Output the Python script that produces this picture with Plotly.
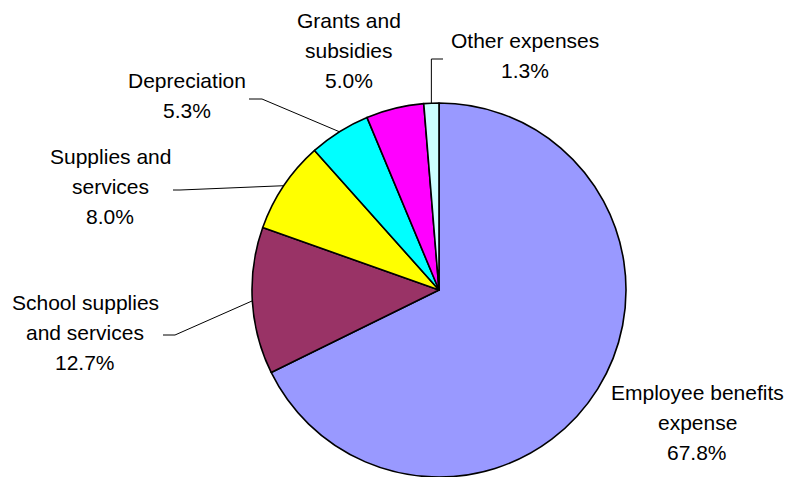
import math
import plotly.graph_objects as go

# Expense breakdown (percent of total)
categories = [
    "Employee benefits expense",
    "School supplies and services",
    "Supplies and services",
    "Depreciation",
    "Grants and subsidies",
    "Other expenses",
]
values = [67.8, 12.7, 8.0, 5.3, 5.0, 1.3]
colors = ["#9999FF", "#993366", "#FFFF00", "#00FFFF", "#FF00FF", "#CCFFFF"]

# Label text split into lines
label_lines = [
    ["Employee benefits", "expense"],
    ["School supplies", "and services"],
    ["Supplies and", "services"],
    ["Depreciation"],
    ["Grants and", "subsidies"],
    ["Other expenses"],
]

W, H = 787, 477
CX, CY, R = 439, 290, 187          # pie centre and radius, pixels
FONT = dict(family="Liberation Sans, Arial, sans-serif", size=21, color="black")
LINE_GAP = 30

# label block: centre x, first baseline y (pixels)
label_pos = [
    (697, 401),
    (85, 311),
    (110, 165),
    (187, 89),
    (349, 29),
    (525, 49),
]
# leader lines: (start point, elbow point) in pixels, or None
leaders = [
    None,
    ((163, 335), (175, 335)),
    ((173, 190), (180, 190)),
    ((249, 99), (262, 99)),
    None,
    ((443, 59), ("edge", 59)),
]

fig = go.Figure()
fig.add_trace(go.Pie(
    labels=categories,
    values=values,
    sort=False,
    direction="clockwise",
    rotation=0,
    marker=dict(colors=colors, line=dict(color="black", width=1.6)),
    textinfo="none",
    hoverinfo="label+percent",
    showlegend=False,
    domain=dict(x=[(CX - R) / W, (CX + R) / W],
                y=[(H - CY - R) / H, (H - CY + R) / H]),
))

annotations = []
shapes = []
total = sum(values)
cum = 0.0
for i, v in enumerate(values):
    mid = (cum + v / 2) / total * 2 * math.pi
    cum += v
    ex = CX + R * math.sin(mid)
    ey = CY - R * math.cos(mid)
    lx, ly = label_pos[i]
    lines = label_lines[i] + [f"{v:.1f}%"]
    for k, t in enumerate(lines):
        annotations.append(dict(
            x=lx, y=ly + k * LINE_GAP - 9, xref="x", yref="y",
            text=t, showarrow=False, font=FONT,
            xanchor="center", yanchor="middle",
        ))
    if leaders[i] is not None:
        (sx, sy), (bx, by) = leaders[i]
        if bx == "edge":
            bx = ex
        shapes.append(dict(
            type="path", xref="x", yref="y",
            path=f"M {sx} {sy} L {bx} {by} L {ex:.2f} {ey:.2f}",
            line=dict(color="black", width=1),
        ))

fig.update_layout(
    width=W, height=H,
    margin=dict(l=0, r=0, t=0, b=0),
    paper_bgcolor="white",
    plot_bgcolor="rgba(0,0,0,0)",
    xaxis=dict(range=[0, W], visible=False, fixedrange=True),
    yaxis=dict(range=[H, 0], visible=False, fixedrange=True),
    annotations=annotations,
    shapes=shapes,
)

fig.write_html("out.html")
